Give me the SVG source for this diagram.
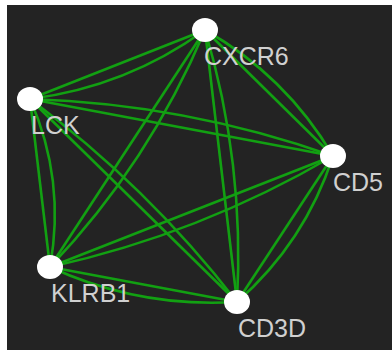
<svg xmlns="http://www.w3.org/2000/svg" width="392" height="350" viewBox="0 0 392 350">
<style>
.e{fill:none;stroke:#12a012;stroke-width:2.6}
.n{fill:#ffffff}
.l{font-family:"Liberation Sans",Arial,sans-serif;font-size:25px;fill:#d0d0d0}
</style>
<rect x="0" y="0" width="392" height="350" fill="#ffffff"/>
<rect x="7" y="5" width="385" height="345" fill="#232323"/>
<g id="edges">
<path class="e" d="M30,99 L205,30"/>
<path class="e" d="M30,99 Q126.3,86.8 205,30"/>
<path class="e" d="M205,30 L333,156"/>
<path class="e" d="M205,30 Q285.8,75.9 333,156"/>
<path class="e" d="M333,156 L237,302"/>
<path class="e" d="M333,156 Q305.1,242.2 237,302"/>
<path class="e" d="M50,267 L237,302"/>
<path class="e" d="M50,267 Q139.1,308.1 237,302"/>
<path class="e" d="M30,99 L50,267"/>
<path class="e" d="M30,99 Q65.8,179.9 50,267"/>
<path class="e" d="M30,99 L333,156"/>
<path class="e" d="M30,99 Q185.9,103.9 333,156"/>
<path class="e" d="M30,99 L237,302"/>
<path class="e" d="M30,99 Q147.5,186.2 237,302"/>
<path class="e" d="M205,30 L50,267"/>
<path class="e" d="M205,30 Q149.3,162.7 50,267"/>
<path class="e" d="M205,30 L237,302"/>
<path class="e" d="M205,30 Q244.8,163.2 237,302"/>
<path class="e" d="M50,267 L333,156"/>
<path class="e" d="M50,267 Q200.3,233.8 333,156"/>
</g>
<g id="CXCR6"><ellipse class="n" cx="205" cy="30" rx="13" ry="12"/><text class="l" x="204" y="65">CXCR6</text></g>
<g id="LCK"><ellipse class="n" cx="30" cy="99" rx="13" ry="12"/><text class="l" x="31" y="134">LCK</text></g>
<g id="CD5"><ellipse class="n" cx="333" cy="156" rx="13" ry="12"/><text class="l" x="333" y="191">CD5</text></g>
<g id="KLRB1"><ellipse class="n" cx="50" cy="267" rx="13" ry="12"/><text class="l" x="51" y="302">KLRB1</text></g>
<g id="CD3D"><ellipse class="n" cx="237" cy="302" rx="13" ry="12"/><text class="l" x="238" y="337">CD3D</text></g>
</svg>
